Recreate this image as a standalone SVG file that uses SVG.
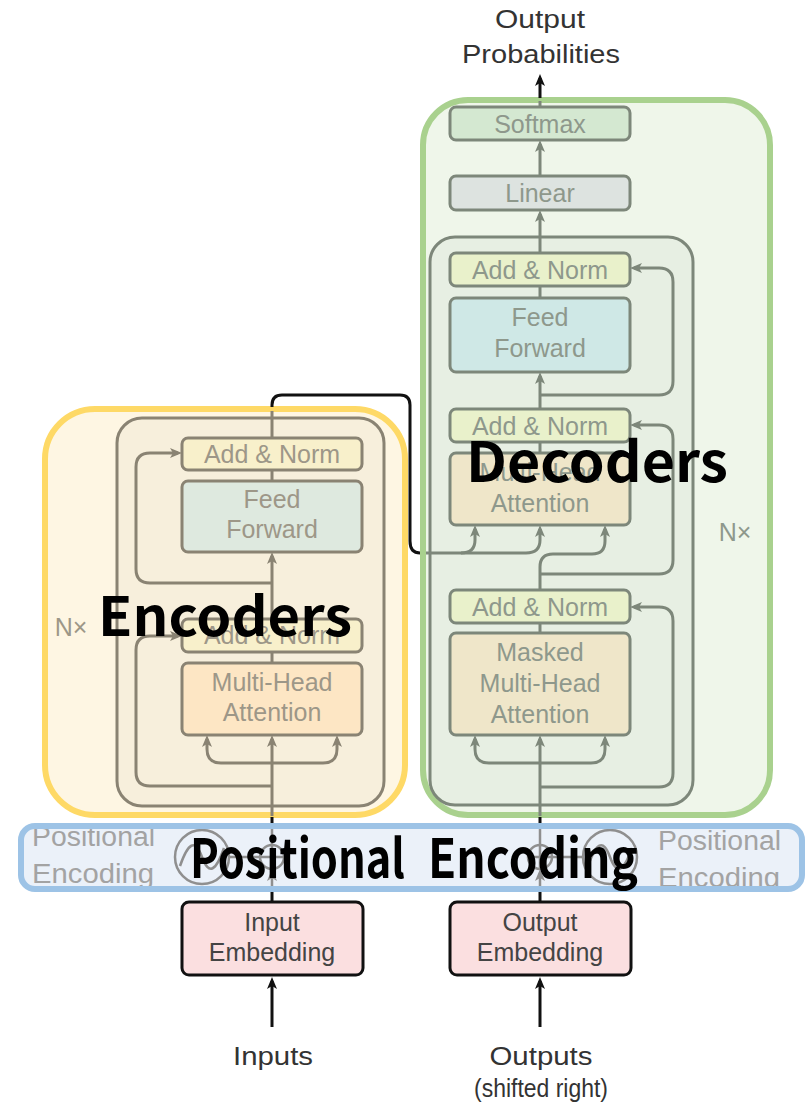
<svg xmlns="http://www.w3.org/2000/svg" width="808" height="1109" viewBox="0 0 808 1109">
  <style>
    .lbl { font-family: "Liberation Sans", Arial, sans-serif; font-size: 25px; text-anchor: middle; }
    .enc-t { fill: #9d9788; }
    .dec-t { fill: #8e988c; }
    .dark-t { fill: #333333; }
    .enc-box { stroke: #8a8373; stroke-width: 3; }
    .dec-box { stroke: #7d877a; stroke-width: 3; }
    .enc-ln { fill: none; stroke: #8a8373; stroke-width: 3; }
    .dec-ln { fill: none; stroke: #7d877a; stroke-width: 3; }
    .blk-ln { fill: none; stroke: #111111; stroke-width: 3; }
    .pe-ln { fill: none; stroke: #8f8f8f; stroke-width: 2.5; }
    .big { font-family: "Noto Sans CJK KR", "Noto Sans", sans-serif; font-weight: 700; fill: #000000; }
    .fade { font-family: "Liberation Sans", Arial, sans-serif; font-size: 27px; fill: #a3a3a3; }
  </style>
  <defs>
    <marker id="ah-enc" viewBox="0 0 12 10" refX="8" refY="5" markerWidth="12" markerHeight="10" markerUnits="userSpaceOnUse" orient="auto-start-reverse">
      <path d="M0,0 L12,5 L0,10 L3,5 z" fill="#8a8373"/>
    </marker>
    <marker id="ah-dec" viewBox="0 0 12 10" refX="8" refY="5" markerWidth="12" markerHeight="10" markerUnits="userSpaceOnUse" orient="auto-start-reverse">
      <path d="M0,0 L12,5 L0,10 L3,5 z" fill="#7d877a"/>
    </marker>
    <marker id="ah-blk" viewBox="0 0 12 10" refX="8" refY="5" markerWidth="12" markerHeight="10" markerUnits="userSpaceOnUse" orient="auto">
      <path d="M0,0 L12,5 L0,10 L3,5 z" fill="#111111"/>
    </marker>
    <marker id="ah-pe" viewBox="0 0 12 10" refX="8" refY="5" markerWidth="12" markerHeight="10" markerUnits="userSpaceOnUse" orient="auto">
      <path d="M0,0 L12,5 L0,10 L3,5 z" fill="#8f8f8f"/>
    </marker>
    <clipPath id="pe-clip">
      <rect x="24" y="829" width="775" height="57"/>
    </clipPath>
  </defs>

  <rect width="808" height="1109" fill="#ffffff"/>

  <!-- highlighted regions -->
  <g id="decoders-region">
    <rect x="423" y="100" width="347" height="715" rx="45" fill="#eff6ea" stroke="#a9d18e" stroke-width="6"/>
  </g>
  <g id="encoders-region">
    <rect x="45" y="409" width="360" height="406" rx="50" fill="#fef6e3" stroke="#fed966" stroke-width="6"/>
  </g>
  <g id="pe-region-fill">
    <rect x="21" y="826" width="781" height="63" rx="14" fill="#ebf1f9"/>
  </g>

  <!-- repeated-layer frames -->
  <g id="encoder-stack">
    <rect x="117" y="418" width="267" height="388" rx="25" fill="#f7efdc" class="enc-box"/>
    <text x="71" y="636" class="lbl enc-t" font-size="24">N×</text>
  </g>
  <g id="decoder-stack">
    <rect x="430" y="237" width="263" height="568" rx="25" fill="#e7efe3" class="dec-box"/>
    <text x="735" y="541" class="lbl dec-t" font-size="24">N×</text>
  </g>

  <!-- connectors -->
  <g id="connectors">
    <!-- encoder output to decoder cross attention -->
    <path class="blk-ln" d="M272,407 L272,405 Q272,395 282,395 L400,395 Q410,395 410,405 L410,541 Q410,553 420,553"/>

    <!-- encoder layer -->
    <path class="enc-ln" d="M272,816 L272,739" marker-end="url(#ah-enc)"/>
    <path class="enc-ln" d="M207,739 L207,749 Q207,763 221,763 L323,763 Q337,763 337,749 L337,739" marker-start="url(#ah-enc)" marker-end="url(#ah-enc)"/>
    <path class="enc-ln" d="M272,786 L150,786 Q136,786 136,772 L136,650 Q136,636 150,636 L178,636" marker-end="url(#ah-enc)"/>
    <path class="enc-ln" d="M272,663 L272,652"/>
    <path class="enc-ln" d="M272,619 L272,556" marker-end="url(#ah-enc)"/>
    <path class="enc-ln" d="M272,583 L150,583 Q136,583 136,569 L136,467 Q136,453 150,453 L178,453" marker-end="url(#ah-enc)"/>
    <path class="enc-ln" d="M272,481 L272,469"/>
    <path class="enc-ln" d="M272,438 L272,411"/>

    <!-- decoder layer -->
    <path class="dec-ln" d="M540,816 L540,739" marker-end="url(#ah-dec)"/>
    <path class="dec-ln" d="M475,739 L475,749 Q475,763 489,763 L591,763 Q605,763 605,749 L605,739" marker-start="url(#ah-dec)" marker-end="url(#ah-dec)"/>
    <path class="dec-ln" d="M540,787 L659,787 Q673,787 673,773 L673,621 Q673,607 659,607 L634,607" marker-end="url(#ah-dec)"/>
    <path class="dec-ln" d="M540,633 L540,623"/>
    <path class="dec-ln" d="M540,590 L540,567 Q540,554 553,554 L592,554 Q605,554 605,541 L605,529" marker-end="url(#ah-dec)"/>
    <path class="dec-ln" d="M540,574 L659,574 Q673,574 673,560 L673,439 Q673,425 659,425 L634,425" marker-end="url(#ah-dec)"/>
    <path class="dec-ln" d="M426,553 L461,553 Q475,553 475,540 L475,529" marker-end="url(#ah-dec)"/>
    <path class="dec-ln" d="M461,553 L526,553 Q540,553 540,540 L540,529" marker-end="url(#ah-dec)"/>
    <path class="dec-ln" d="M540,453 L540,442"/>
    <path class="dec-ln" d="M540,409 L540,376" marker-end="url(#ah-dec)"/>
    <path class="dec-ln" d="M540,395 L659,395 Q673,395 673,381 L673,282 Q673,268 659,268 L634,268" marker-end="url(#ah-dec)"/>
    <path class="dec-ln" d="M540,298 L540,286"/>
    <path class="dec-ln" d="M540,253 L540,214" marker-end="url(#ah-dec)"/>
    <path class="dec-ln" d="M540,176 L540,144" marker-end="url(#ah-dec)"/>
    <path class="dec-ln" d="M540,107 L540,101"/>
    <path class="blk-ln" d="M540,98 L540,78" marker-end="url(#ah-blk)"/>

    <!-- embeddings through positional encoding -->
    <path class="blk-ln" d="M272,902 L272,888"/>
    <path class="pe-ln" d="M272,888 L272,873" marker-end="url(#ah-pe)"/>
    <path class="pe-ln" d="M272,845 L272,827"/>
    <path class="blk-ln" d="M272,827 L272,817"/>
    <path class="pe-ln" d="M229,857 L260,857"/>

    <path class="blk-ln" d="M540,902 L540,888"/>
    <path class="pe-ln" d="M540,888 L540,873" marker-end="url(#ah-pe)"/>
    <path class="pe-ln" d="M540,845 L540,827"/>
    <path class="blk-ln" d="M540,827 L540,817"/>
    <path class="pe-ln" d="M552,857 L583,857"/>

    <path class="blk-ln" d="M272,1027 L272,981" marker-end="url(#ah-blk)"/>
    <path class="blk-ln" d="M540,1027 L540,981" marker-end="url(#ah-blk)"/>
  </g>

  <!-- encoder nodes -->
  <g id="enc-add-norm-2">
    <rect x="182" y="438" width="180" height="32" rx="6" fill="#f8f0cb" class="enc-box"/>
    <text x="272" y="463" class="lbl enc-t">Add &amp; Norm</text>
  </g>
  <g id="enc-feed-forward">
    <rect x="182" y="481" width="180" height="71" rx="6" fill="#dee9df" class="enc-box"/>
    <text x="272" y="508" class="lbl enc-t">Feed</text>
    <text x="272" y="538" class="lbl enc-t">Forward</text>
  </g>
  <g id="enc-add-norm-1">
    <rect x="182" y="619" width="180" height="33" rx="6" fill="#f8f0cb" class="enc-box"/>
    <text x="272" y="644" class="lbl enc-t">Add &amp; Norm</text>
  </g>
  <g id="enc-attention">
    <rect x="182" y="663" width="180" height="72" rx="6" fill="#fde6c4" class="enc-box"/>
    <text x="272" y="691" class="lbl enc-t">Multi-Head</text>
    <text x="272" y="721" class="lbl enc-t">Attention</text>
  </g>

  <!-- decoder nodes -->
  <g id="softmax">
    <rect x="450" y="107" width="180" height="33" rx="6" fill="#d4e8d1" class="dec-box"/>
    <text x="540" y="133" class="lbl dec-t">Softmax</text>
  </g>
  <g id="linear">
    <rect x="450" y="176" width="180" height="34" rx="6" fill="#dde3e0" class="dec-box"/>
    <text x="540" y="202" class="lbl dec-t">Linear</text>
  </g>
  <g id="dec-add-norm-3">
    <rect x="450" y="253" width="180" height="33" rx="6" fill="#e9f1cb" class="dec-box"/>
    <text x="540" y="279" class="lbl dec-t">Add &amp; Norm</text>
  </g>
  <g id="dec-feed-forward">
    <rect x="450" y="298" width="180" height="74" rx="6" fill="#cfe8e6" class="dec-box"/>
    <text x="540" y="326" class="lbl dec-t">Feed</text>
    <text x="540" y="357" class="lbl dec-t">Forward</text>
  </g>
  <g id="dec-add-norm-2">
    <rect x="450" y="409" width="180" height="33" rx="6" fill="#e9f1cb" class="dec-box"/>
    <text x="540" y="435" class="lbl dec-t">Add &amp; Norm</text>
  </g>
  <g id="dec-cross-attention">
    <rect x="450" y="453" width="180" height="72" rx="6" fill="#efe6c9" class="dec-box"/>
    <text x="540" y="481" class="lbl dec-t">Multi-Head</text>
    <text x="540" y="512" class="lbl dec-t">Attention</text>
  </g>
  <g id="dec-add-norm-1">
    <rect x="450" y="590" width="180" height="33" rx="6" fill="#e9f1cb" class="dec-box"/>
    <text x="540" y="616" class="lbl dec-t">Add &amp; Norm</text>
  </g>
  <g id="dec-masked-attention">
    <rect x="450" y="633" width="180" height="102" rx="6" fill="#efe6c9" class="dec-box"/>
    <text x="540" y="661" class="lbl dec-t">Masked</text>
    <text x="540" y="692" class="lbl dec-t">Multi-Head</text>
    <text x="540" y="723" class="lbl dec-t">Attention</text>
  </g>

  <!-- positional encoding band -->
  <g id="positional-encoding">
    <g clip-path="url(#pe-clip)">
      <text x="32" y="846" class="fade" textLength="123" lengthAdjust="spacingAndGlyphs">Positional</text>
      <text x="32" y="883" class="fade" textLength="122" lengthAdjust="spacingAndGlyphs">Encoding</text>
      <text x="658" y="850" class="fade" textLength="123" lengthAdjust="spacingAndGlyphs">Positional</text>
      <text x="658" y="887" class="fade" textLength="122" lengthAdjust="spacingAndGlyphs">Encoding</text>
    </g>
    <circle cx="202" cy="857" r="27" fill="none" stroke="#8f8f8f" stroke-width="2.5"/>
    <path class="pe-ln" d="M180,866 C188,843 195,838 202,857 C209,876 216,871 224,848"/>
    <circle cx="272" cy="857" r="12" fill="none" stroke="#8f8f8f" stroke-width="2.5"/>
    <path class="pe-ln" d="M260,857 L284,857 M272,845 L272,869"/>
    <circle cx="610" cy="857" r="27" fill="none" stroke="#8f8f8f" stroke-width="2.5"/>
    <path class="pe-ln" d="M588,866 C596,843 603,838 610,857 C617,876 624,871 632,848"/>
    <circle cx="540" cy="857" r="12" fill="none" stroke="#8f8f8f" stroke-width="2.5"/>
    <path class="pe-ln" d="M528,857 L552,857 M540,845 L540,869"/>
    <rect x="21" y="826" width="781" height="63" rx="14" fill="none" stroke="#9dc3e6" stroke-width="6"/>
  </g>

  <!-- embeddings and terminals -->
  <g id="input-embedding">
    <rect x="182" y="902" width="181" height="73" rx="7" fill="#fbdfe0" stroke="#111111" stroke-width="3"/>
    <text x="272" y="931" class="lbl" fill="#444444">Input</text>
    <text x="272" y="961" class="lbl" fill="#444444">Embedding</text>
  </g>
  <g id="output-embedding">
    <rect x="450" y="902" width="181" height="73" rx="7" fill="#fbdfe0" stroke="#111111" stroke-width="3"/>
    <text x="540" y="931" class="lbl" fill="#444444">Output</text>
    <text x="540" y="961" class="lbl" fill="#444444">Embedding</text>
  </g>
  <g id="inputs">
    <text x="273" y="1065" class="lbl dark-t" font-size="27" textLength="80" lengthAdjust="spacingAndGlyphs">Inputs</text>
  </g>
  <g id="outputs">
    <text x="541" y="1065" class="lbl dark-t" font-size="27" textLength="103" lengthAdjust="spacingAndGlyphs">Outputs</text>
    <text x="541" y="1097" class="lbl dark-t" font-size="27" textLength="134" lengthAdjust="spacingAndGlyphs">(shifted right)</text>
  </g>
  <g id="output-probabilities">
    <text x="540" y="28" class="lbl dark-t" font-size="27" textLength="90" lengthAdjust="spacingAndGlyphs">Output</text>
    <text x="541" y="63" class="lbl dark-t" font-size="27" textLength="158" lengthAdjust="spacingAndGlyphs">Probabilities</text>
  </g>

  <!-- region titles -->
  <g id="region-titles">
    <text x="98" y="636" class="big" font-size="54" textLength="254" lengthAdjust="spacingAndGlyphs">Encoders</text>
    <text x="466" y="482" class="big" font-size="55" textLength="262" lengthAdjust="spacingAndGlyphs">Decoders</text>
    <text class="big" font-size="54" y="878"><tspan x="190" textLength="215" lengthAdjust="spacingAndGlyphs">Positional</tspan> <tspan x="428" textLength="210" lengthAdjust="spacingAndGlyphs">Encoding</tspan></text>
  </g>
</svg>
